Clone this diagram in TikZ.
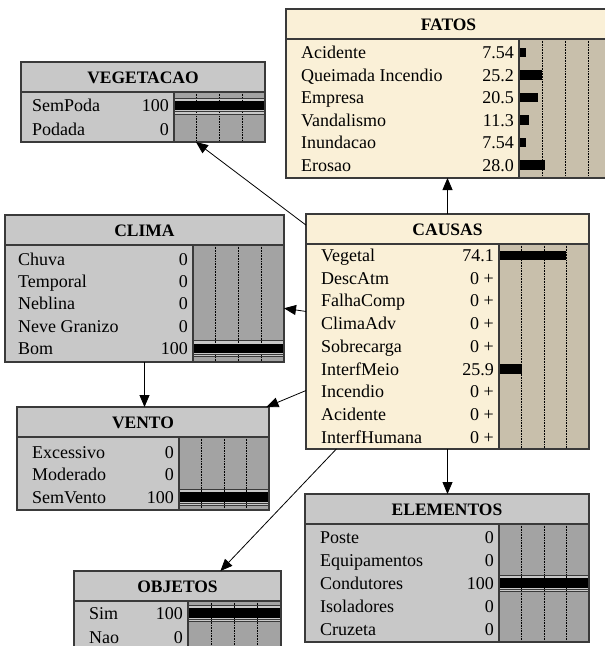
\documentclass[tikz,border=0pt]{standalone}
\usepackage{fontspec}
\setmainfont{Liberation Serif}
\usetikzlibrary{arrows.meta}

\definecolor{grayfill}{HTML}{C8C8C8}
\definecolor{graybar}{HTML}{A3A3A3}
\definecolor{creamfill}{HTML}{FAF0D7}
\definecolor{creambar}{HTML}{C8BFAB}
\definecolor{framecol}{HTML}{3A3A3A}

\tikzset{
  frame/.style={draw=framecol, line width=1.2pt},
  bandline/.style={draw=framecol, line width=0.7pt},
  gridline/.style={black, densely dotted, line width=0.6pt},
  title/.style={font=\fontsize{17.5}{20}\selectfont\bfseries, inner sep=0},
  lab/.style={font=\fontsize{18}{20}\selectfont, inner sep=0, anchor=base west},
  val/.style={font=\fontsize{18}{20}\selectfont, inner sep=0, anchor=base east},
  arr/.style={-{Triangle[length=12pt,width=10pt]}, line width=0.8pt, black},
  boxframe/.style={frame, rectangle, inner sep=0, outer sep=0},
}

% belief box: name, left, top, right, bottom, bar-area left, title, fill, bar fill
\newcommand\bnbox[9]{%
  \gdef\bxL{#2}\gdef\bxT{#3}\gdef\bxR{#4}\gdef\bxB{#5}\gdef\bxX{#6}%
  \node[boxframe, fill=#8, minimum width={(#4-#2)*1pt}, minimum height={(#5-#3)*1pt}]
    (#1) at ({(#2+#4)/2},{(#3+#5)/2}) {};
  \fill[#9] (#6,#3+30) rectangle (#4,#5);
  \foreach \k in {1,2,3}{\draw[gridline] ({#6+\k*(#4-#6)/4},#3+30) -- ({#6+\k*(#4-#6)/4},#5);}
  \node[title] at ({(#2+#4)/2},#3+15.5) {#7};
}
% first row centre, row pitch, label indent
\newcommand\rowsat[3]{\gdef\rY{#1}\gdef\rD{#2}\gdef\rL{#3}}
% row: index, label, value text, percent
\newcommand\brow[4]{%
  \node[lab] at (\bxL+\rL, \rY+\rD*#1+6) {#2};
  \node[val] at (\bxX-5, \rY+\rD*#1+6) {#3};
  \ifdim #4pt>0pt
    \fill[black] (\bxX, \rY+\rD*#1-4.7) rectangle ({\bxX+#4/100*(\bxR-\bxX)}, \rY+\rD*#1+4.7);
  \fi
}
% band marking an observed state
\newcommand\bfull[1]{%
  \fill[grayfill] (\bxX, \rY+\rD*#1-7.5) rectangle (\bxR, \rY+\rD*#1+8.5);
  \foreach \k in {1,2,3}{\draw[gridline] ({\bxX+\k*(\bxR-\bxX)/4}, \rY+\rD*#1-7.5) -- ({\bxX+\k*(\bxR-\bxX)/4}, \rY+\rD*#1+8.5);}
  \draw[bandline] (\bxX, \rY+\rD*#1-7.5) -- (\bxR, \rY+\rD*#1-7.5)
                  (\bxX, \rY+\rD*#1+6) -- (\bxR, \rY+\rD*#1+6)
                  (\bxX, \rY+\rD*#1+8.5) -- (\bxR, \rY+\rD*#1+8.5);
}
% frame lines drawn on top
\newcommand\bclose{%
  \draw[frame] (\bxX,\bxT+30) -- (\bxX,\bxB);
  \draw[frame] (\bxL,\bxT+30) -- (\bxR,\bxT+30);
  \draw[frame] (\bxL,\bxT) rectangle (\bxR,\bxB);
}

\begin{document}
\begin{tikzpicture}[x=1pt, y=-1pt]
\useasboundingbox (0,0) rectangle (605,646);
\clip (0,0) rectangle (605,646);
\fill[white] (0,0) rectangle (605,646);

% FATOS
\bnbox{fatos}{286}{9}{611}{178}{519}{FATOS}{creamfill}{creambar}
\rowsat{52.5}{22.5}{15}
\brow{0}{Acidente}{7.54}{7.54}
\brow{1}{Queimada Incendio}{25.2}{25.2}
\brow{2}{Empresa}{20.5}{20.5}
\brow{3}{Vandalismo}{11.3}{11.3}
\brow{4}{Inundacao}{7.54}{7.54}
\brow{5}{Erosao}{28.0}{28.0}
\bclose

% VEGETACAO
\bnbox{vegetacao}{21}{62}{265}{142}{174}{VEGETACAO}{grayfill}{graybar}
\rowsat{105.5}{24}{11}
\bfull{0}
\brow{0}{SemPoda}{100}{100}
\brow{1}{Podada}{0}{0}
\bclose

% CLIMA
\bnbox{clima}{5}{215}{284}{362}{193}{CLIMA}{grayfill}{graybar}
\rowsat{259.5}{22.2}{13}
\bfull{4}
\brow{0}{Chuva}{0}{0}
\brow{1}{Temporal}{0}{0}
\brow{2}{Neblina}{0}{0}
\brow{3}{Neve Granizo}{0}{0}
\brow{4}{Bom}{100}{100}
\bclose

% VENTO
\bnbox{vento}{17}{407}{269}{510}{179}{VENTO}{grayfill}{graybar}
\rowsat{452}{22.5}{15}
\bfull{2}
\brow{0}{Excessivo}{0}{0}
\brow{1}{Moderado}{0}{0}
\brow{2}{SemVento}{100}{100}
\bclose

% CAUSAS
\bnbox{causas}{306}{214}{589}{449}{499}{CAUSAS}{creamfill}{creambar}
\rowsat{255.5}{22.7}{15}
\brow{0}{Vegetal}{74.1}{74.1}
\brow{1}{DescAtm}{0 +}{0}
\brow{2}{FalhaComp}{0 +}{0}
\brow{3}{ClimaAdv}{0 +}{0}
\brow{4}{Sobrecarga}{0 +}{0}
\brow{5}{InterfMeio}{25.9}{25.9}
\brow{6}{Incendio}{0 +}{0}
\brow{7}{Acidente}{0 +}{0}
\brow{8}{InterfHumana}{0 +}{0}
\bclose

% ELEMENTOS
\bnbox{elementos}{305}{494}{589}{642}{499}{ELEMENTOS}{grayfill}{graybar}
\rowsat{537}{23}{15}
\bfull{2}
\brow{0}{Poste}{0}{0}
\brow{1}{Equipamentos}{0}{0}
\brow{2}{Condutores}{100}{100}
\brow{3}{Isoladores}{0}{0}
\brow{4}{Cruzeta}{0}{0}
\bclose

% OBJETOS
\bnbox{objetos}{74}{571}{281}{662}{188}{OBJETOS}{grayfill}{graybar}
\rowsat{613}{24}{15}
\bfull{0}
\brow{0}{Sim}{100}{100}
\brow{1}{Nao}{0}{0}
\bclose

% links
\draw[arr] (causas.north) -- (causas.north |- fatos.south);
\draw[arr] (causas) -- (vegetacao);
\draw[arr] (causas) -- (clima);
\draw[arr] (causas) -- (vento);
\draw[arr] (causas) -- (objetos);
\draw[arr] (causas.south) -- (causas.south |- elementos.north);
\draw[arr] (clima.south) -- (clima.south |- vento.north);
\end{tikzpicture}
\end{document}
